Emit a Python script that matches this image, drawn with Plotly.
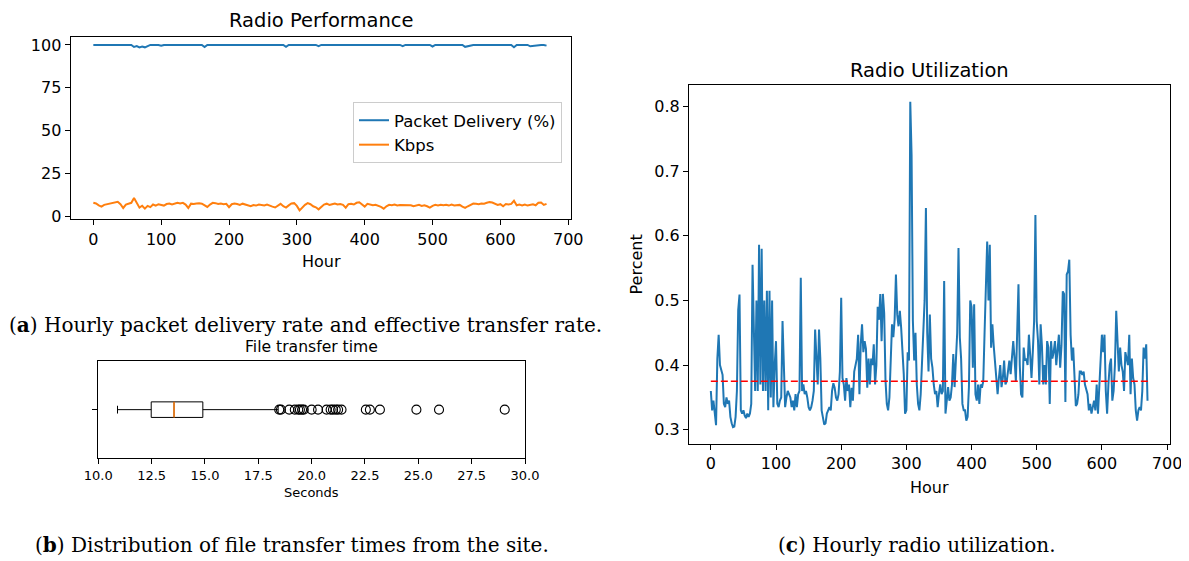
import plotly.graph_objects as go

# ---------------- data ----------------
# (a) Radio performance, sampled every 4 hours
perf_hours = list(range(0, 672, 4))
packet_delivery = [
    100, 100, 100, 100, 100, 100, 100, 100, 100, 100,
    100, 100, 100, 100, 100, 98.8, 99.3, 98.5, 99.0, 98.6,
    99.4, 100, 100, 100, 100, 99.5, 100, 100, 100, 100,
    100, 100, 100, 100, 100, 100, 100, 100, 100, 100,
    100, 98.8, 100, 100, 100, 100, 100, 100, 100, 100,
    100, 100, 100, 100, 100, 100, 100, 100, 100, 100,
    100, 100, 100, 100, 100, 100, 100, 100, 100, 100,
    100, 98.9, 100, 100, 100, 100, 100, 100, 100, 100,
    100, 100, 100, 99.3, 100, 100, 100, 100, 100, 100,
    100, 100, 100, 100, 100, 100, 100, 100, 100, 100,
    100, 100, 100, 100, 100, 100, 100, 100, 100, 100,
    100, 100, 100, 100, 99.3, 100, 100, 100, 100, 100,
    100, 100, 100, 100, 100, 99.1, 100, 100, 100, 100,
    100, 100, 100, 100, 100, 100, 100, 98.9, 99.3, 100,
    100, 100, 100, 100, 100, 100, 100, 100, 100, 100,
    100, 100, 100, 100, 100, 98.7, 100, 100, 100, 100,
    100, 99.2, 99.4, 100, 100, 100, 100, 99.6,
]
kbps = [
    8.0, 7.6, 6.5, 5.8, 6.8, 7.2, 7.5, 8.0, 8.4, 8.6,
    7.2, 5.0, 7.0, 7.6, 8.0, 10.8, 7.5, 5.2, 6.3, 4.6,
    6.2, 5.5, 7.0, 6.3, 7.2, 7.0, 6.4, 7.3, 7.6, 7.0,
    7.4, 8.0, 7.6, 8.0, 7.0, 5.0, 7.5, 7.3, 7.6, 7.8,
    7.5, 6.6, 5.6, 7.0, 8.0, 7.8, 7.3, 7.6, 7.2, 7.4,
    5.5, 7.2, 7.6, 7.3, 6.8, 7.5, 7.0, 6.6, 6.0, 6.7,
    6.4, 7.0, 6.8, 6.5, 7.0, 6.2, 5.8, 5.3, 6.6, 7.4,
    6.0, 5.2, 6.5, 7.6, 7.8, 6.2, 3.6, 5.5, 6.8, 7.8,
    7.2, 6.0, 5.4, 4.2, 5.8, 7.0, 7.5, 6.8, 7.2, 7.6,
    7.0, 7.3, 6.8, 5.2, 7.2, 7.4, 7.0, 8.0, 8.3, 7.0,
    5.8, 7.4, 7.0, 6.6, 6.8, 6.4, 5.6, 4.6, 6.0, 6.8,
    6.6, 7.0, 6.5, 6.7, 6.6, 6.8, 6.4, 6.6, 6.0, 6.5,
    6.8, 6.2, 6.6, 6.0, 5.2, 6.2, 6.8, 6.5, 6.9, 6.6,
    6.8, 6.4, 7.0, 6.5, 6.6, 6.8, 5.8, 5.0, 6.0, 6.8,
    7.6, 7.4, 7.2, 7.6, 7.5, 8.0, 8.4, 8.2, 7.6, 6.8,
    7.2, 6.0, 7.3, 7.0, 7.4, 9.2, 6.6, 7.0, 6.5, 7.0,
    6.4, 7.0, 7.2, 6.6, 8.0, 8.2, 6.8, 7.4,
]

# (b) File transfer time box-plot statistics (seconds)
ft_lowerfence = 10.9
ft_q1 = 12.48
ft_median = 13.55
ft_q3 = 14.9
ft_upperfence = 18.43
ft_outliers = [18.48, 18.56, 18.95, 19.21, 19.37, 19.45, 19.55, 19.63, 20.0, 20.3,
               20.7, 20.89, 21.0, 21.13, 21.24, 21.4, 22.54, 22.73, 23.2, 24.91,
               25.97, 29.05]

# (c) Radio utilization, sampled every 2 hours
util_hours = list(range(0, 672, 2))
utilization = [
    0.36, 0.33, 0.345, 0.33, 0.307, 0.41, 0.447, 0.40, 0.39, 0.385,
    0.34, 0.335, 0.35, 0.34, 0.345, 0.32, 0.31, 0.304, 0.305, 0.32,
    0.36, 0.485, 0.509, 0.33, 0.325, 0.33, 0.322, 0.318, 0.325, 0.32,
    0.325, 0.34, 0.555, 0.44, 0.36, 0.50, 0.36, 0.586, 0.37, 0.58,
    0.36, 0.50, 0.36, 0.515, 0.33, 0.515, 0.35, 0.50, 0.335, 0.40,
    0.437, 0.34, 0.335, 0.345, 0.35, 0.468, 0.38, 0.335, 0.35, 0.36,
    0.355, 0.35, 0.335, 0.345, 0.33, 0.355, 0.335, 0.355, 0.36, 0.535,
    0.36, 0.37, 0.355, 0.36, 0.35, 0.335, 0.33, 0.335, 0.345, 0.36,
    0.455, 0.41, 0.37, 0.455, 0.41, 0.33, 0.315, 0.308, 0.31, 0.325,
    0.33, 0.335, 0.33, 0.36, 0.372, 0.365, 0.35, 0.345, 0.355, 0.39,
    0.504, 0.38, 0.37, 0.345, 0.38, 0.36, 0.37, 0.335, 0.365, 0.345,
    0.39, 0.40, 0.41, 0.447, 0.355, 0.432, 0.463, 0.42, 0.437, 0.425,
    0.365, 0.41, 0.37, 0.41, 0.40, 0.432, 0.37, 0.40, 0.49, 0.47,
    0.51, 0.437, 0.51, 0.48, 0.376, 0.34, 0.33, 0.35, 0.40, 0.463,
    0.443, 0.47, 0.54, 0.478, 0.46, 0.484, 0.458, 0.427, 0.386, 0.325,
    0.33, 0.42, 0.407, 0.807, 0.725, 0.468, 0.407, 0.45, 0.37, 0.34,
    0.33, 0.355, 0.40, 0.437, 0.50, 0.643, 0.45, 0.39, 0.478, 0.41,
    0.396, 0.37, 0.355, 0.36, 0.335, 0.355, 0.37, 0.355, 0.36, 0.53,
    0.325, 0.345, 0.366, 0.345, 0.35, 0.37, 0.417, 0.366, 0.42, 0.45,
    0.581, 0.443, 0.41, 0.34, 0.33, 0.33, 0.314, 0.32, 0.366, 0.50,
    0.49, 0.396, 0.494, 0.355, 0.345, 0.37, 0.34, 0.37, 0.365, 0.375,
    0.45, 0.54, 0.591, 0.50, 0.586, 0.427, 0.463, 0.43, 0.40, 0.386,
    0.355, 0.38, 0.40, 0.366, 0.38, 0.407, 0.37, 0.375, 0.39, 0.407,
    0.386, 0.41, 0.437, 0.41, 0.375, 0.45, 0.525, 0.40, 0.355, 0.35,
    0.427, 0.407, 0.41, 0.40, 0.447, 0.415, 0.38, 0.42, 0.468, 0.632,
    0.468, 0.437, 0.37, 0.463, 0.43, 0.37, 0.40, 0.37, 0.437, 0.427,
    0.34, 0.437, 0.41, 0.42, 0.437, 0.40, 0.43, 0.447, 0.396, 0.43,
    0.514, 0.51, 0.343, 0.54, 0.545, 0.563, 0.447, 0.407, 0.427, 0.37,
    0.337, 0.34, 0.355, 0.39, 0.39, 0.385, 0.39, 0.37, 0.36, 0.355,
    0.33, 0.34, 0.325, 0.335, 0.345, 0.33, 0.37, 0.325, 0.36, 0.40,
    0.447, 0.42, 0.447, 0.36, 0.325, 0.37, 0.40, 0.41, 0.345, 0.36,
    0.40, 0.484, 0.42, 0.39, 0.427, 0.40, 0.39, 0.36, 0.42, 0.41,
    0.40, 0.447, 0.355, 0.41, 0.38, 0.37, 0.33, 0.314, 0.33, 0.335,
    0.33, 0.36, 0.427, 0.41, 0.432, 0.345,
]
util_mean = 0.375
hour_span = [0, 671]

# tick labels
hour_ticks = [0, 100, 200, 300, 400, 500, 600, 700]
perf_ticks = [0, 25, 50, 75, 100]
sec_ticks = [10.0, 12.5, 15.0, 17.5, 20.0, 22.5, 25.0, 27.5, 30.0]
util_ticks = [0.3, 0.4, 0.5, 0.6, 0.7, 0.8]

# ---------------- layout helpers ----------------
# the page body has an 8 px margin, so the figure is drawn 8 px in from the
# window's corner; positions below are given in window pixels.
OFF = 8
W, H = 1189 - OFF, 561 - OFF
FONT = "DejaVu Sans"
SERIF = "DejaVu Serif"
BLUE = "#1f77b4"
ORANGE = "#ff7f0e"


def px(x):
    return (x - OFF) / W


def py(y):
    return 1 - (y - OFF) / H


def axis_style(size):
    return dict(showline=True, mirror=True, linecolor="black", linewidth=1,
                ticks="outside", ticklen=5, tickwidth=1, tickcolor="black",
                showgrid=False, zeroline=False, automargin=False,
                tickfont=dict(family=FONT, size=size, color="black"))


fig = go.Figure()

# (a)
fig.add_trace(go.Scatter(x=perf_hours, y=packet_delivery, mode="lines",
                         name="Packet Delivery (%)", line=dict(color=BLUE, width=2),
                         xaxis="x", yaxis="y"))
fig.add_trace(go.Scatter(x=perf_hours, y=kbps, mode="lines", name="Kbps",
                         line=dict(color=ORANGE, width=2), xaxis="x", yaxis="y"))

# (b)
box_w = 0.32
fig.add_trace(go.Box(q1=[ft_q1], median=[ft_median], q3=[ft_q3],
                     lowerfence=[ft_lowerfence], upperfence=[ft_upperfence],
                     y=[0], orientation="h", width=box_w, whiskerwidth=0.5,
                     fillcolor="white", line=dict(color="black", width=1),
                     boxpoints=False, showlegend=False, xaxis="x2", yaxis="y2",
                     hoverinfo="skip"))
fig.add_trace(go.Scatter(x=[ft_median, ft_median], y=[-box_w / 2, box_w / 2],
                         mode="lines", line=dict(color=ORANGE, width=1.5),
                         showlegend=False, xaxis="x2", yaxis="y2"))
fig.add_trace(go.Scatter(x=ft_outliers, y=[0] * len(ft_outliers), mode="markers",
                         marker=dict(symbol="circle-open", size=9, color="black",
                                     line=dict(width=1.1, color="black")),
                         showlegend=False, xaxis="x2", yaxis="y2"))

# (c)
fig.add_trace(go.Scatter(x=util_hours, y=utilization, mode="lines",
                         line=dict(color=BLUE, width=2), showlegend=False,
                         xaxis="x3", yaxis="y3"))
fig.add_trace(go.Scatter(x=hour_span, y=[util_mean, util_mean], mode="lines",
                         line=dict(color="red", width=1.6, dash="7px,3px"),
                         showlegend=False, xaxis="x3", yaxis="y3"))

ax_a = axis_style(16)
ax_b = axis_style(13)
ax_c = axis_style(16)

fig.update_layout(
    width=W, height=H, margin=dict(l=0, r=0, t=0, b=0, autoexpand=False),
    paper_bgcolor="white", plot_bgcolor="white",
    font=dict(family=FONT, color="black"),
    xaxis=dict(domain=[px(70.6), px(571.3)], anchor="y", range=[-33.5, 704.5],
               tickvals=hour_ticks, **ax_a),
    yaxis=dict(domain=[py(219.3), py(36.7)], anchor="x", range=[-1.6, 104.8],
               tickvals=perf_ticks, **ax_a),
    xaxis2=dict(domain=[px(98.3), px(525)], anchor="y2", range=[10, 30],
                tickvals=sec_ticks, tickformat=".1f", **ax_b),
    yaxis2=dict(domain=[py(458.3), py(361)], anchor="x2", range=[-1, 1],
                tickvals=[0], ticktext=[""], **ax_b),
    xaxis3=dict(domain=[px(689), px(1170)], anchor="y3", range=[-33.5, 704.5],
                tickvals=hour_ticks, **ax_c),
    yaxis3=dict(domain=[py(444), py(85)], anchor="x3", range=[0.278, 0.833],
                tickvals=util_ticks, tickformat=".1f", **ax_c),
    legend=dict(x=px(562), y=py(102), xanchor="right", yanchor="top",
                bgcolor="white", bordercolor="#cccccc", borderwidth=1,
                font=dict(family=FONT, size=16.5, color="black"),
                tracegroupgap=0),
    showlegend=True,
)


def label(text, x, y, size, family=FONT, angle=0):
    fig.add_annotation(text=text, x=px(x), y=py(y), xref="paper", yref="paper",
                       showarrow=False, xanchor="center", yanchor="middle",
                       textangle=angle, font=dict(family=family, size=size, color="black"))


label("Radio Performance", 321, 20, 19.5)
label("Hour", 321, 261, 16)
label("(<b>a</b>) Hourly packet delivery rate and effective transfer rate.", 305, 325, 20, SERIF)
label("File transfer time", 311.6, 347, 15.6)
label("Seconds", 311.6, 492, 13)
label("(<b>b</b>) Distribution of file transfer times from the site.", 292, 545, 20, SERIF)
label("Radio Utilization", 929.5, 70, 19.5)
label("Hour", 929.5, 487, 16)
label("Percent", 636, 264.5, 16, angle=-90)
label("(<b>c</b>) Hourly radio utilization.", 917, 545, 20, SERIF)

fig.write_html("out.html")
